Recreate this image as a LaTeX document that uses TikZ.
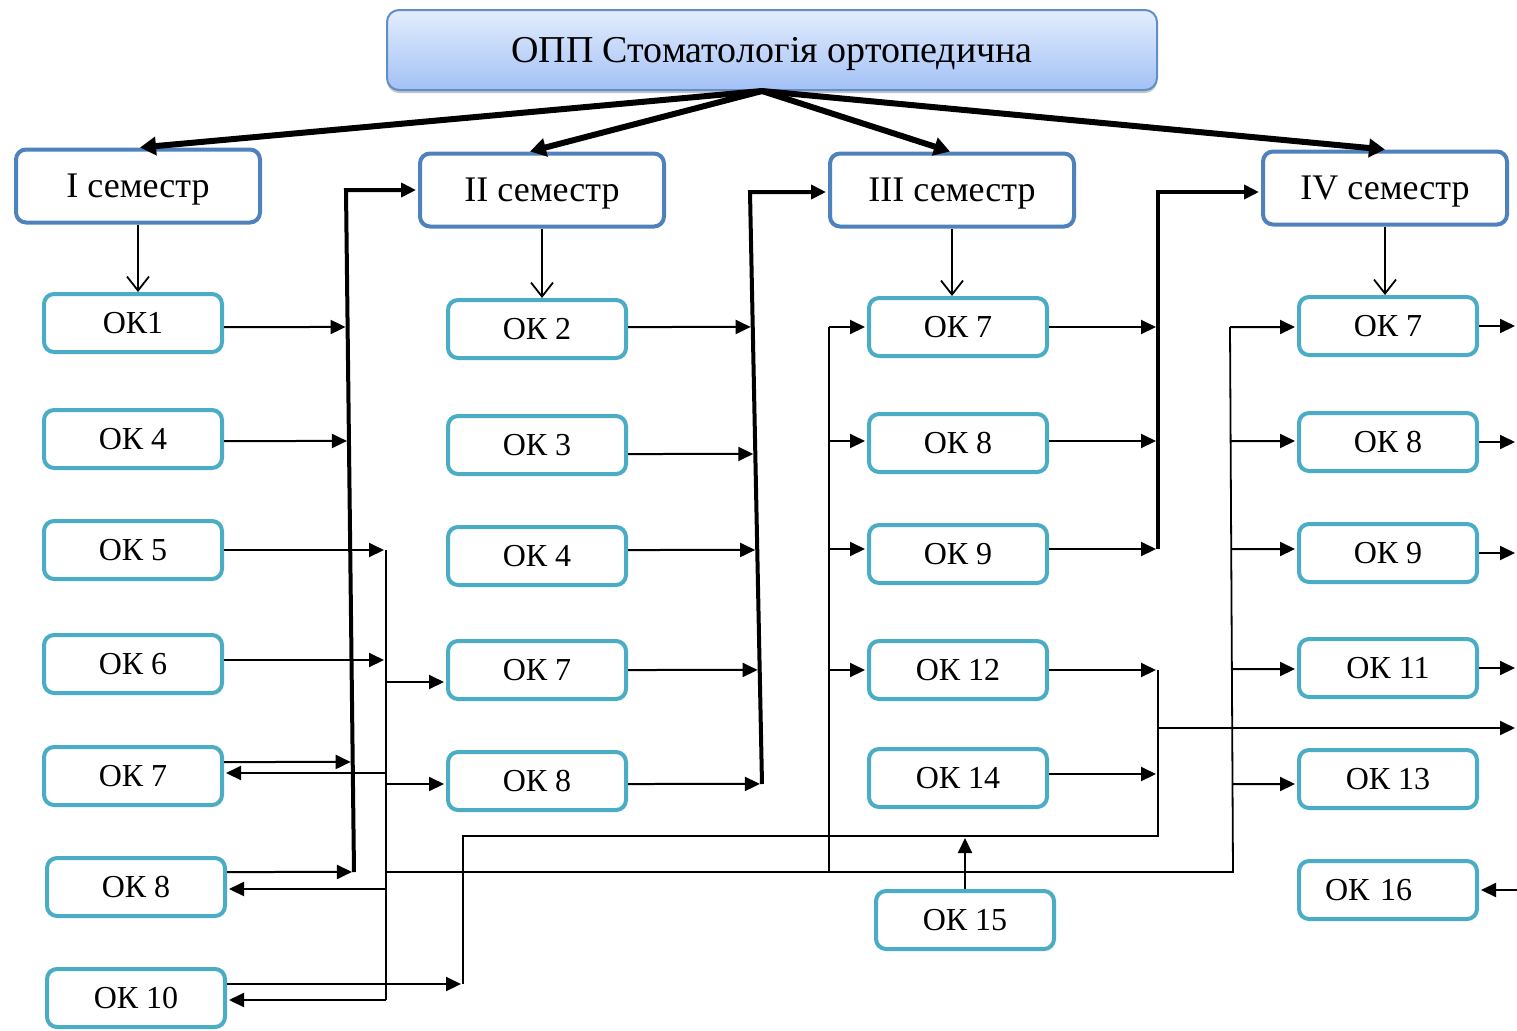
\documentclass[tikz,border=0pt]{standalone}
\usepackage{fontspec}
\setmainfont{Liberation Serif}
\usetikzlibrary{calc,arrows.meta,shadows}
\definecolor{semblue}{HTML}{4F81BD}
\definecolor{okaqua}{HTML}{4BACC6}
\definecolor{titletop}{HTML}{E3EDFD}
\definecolor{titlebot}{HTML}{A3C1F6}

\begin{document}
\begin{tikzpicture}[x=0.5pt,y=-0.5pt,line width=0.9pt,
	title/.style={draw=semblue!90,line width=1pt,rounded corners=6pt,top color=titletop,bottom color=titlebot,
		minimum width=385pt,minimum height=40pt,text depth=0pt,font=\fontsize{19}{20}\selectfont,
		drop shadow={shadow xshift=0pt,shadow yshift=-1.5pt,fill=black!45}},
	sem/.style={draw=semblue,line width=2pt,rounded corners=5pt,fill=white,minimum width=122pt,minimum height=36.5pt,text depth=0pt,font=\fontsize{18}{20}\selectfont},
	ok/.style={draw=okaqua,line width=2pt,rounded corners=5pt,fill=white,minimum width=89pt,minimum height=29pt,font=\fontsize{16}{18}\selectfont},
	arr/.style={-{Triangle[length=7.5pt,width=7pt]},line width=1pt,shorten >=1pt},
	bus/.style={line width=2pt},
	fat/.style={-{Triangle[length=8pt,width=9pt]},line width=3pt},
	down/.style={-{Straight Barb[length=7pt,width=11pt]},line width=0.9pt}]
	\useasboundingbox (0,0) rectangle (1517,1030);
	\node[title] (title) at (772,50) {ОПП Стоматологія ортопедична}; %ОПП
	\coordinate (apex) at ($(title.south)+(-10,0)$);
	\node[sem] (s1) at (138,186) {I семестр};
	\node[sem] (s2) at (542,190) {II семестр};
	\node[sem] (s3) at (952,190) {III семестр};
	\node[sem] (s4) at (1385,188) {IV семестр};
	\foreach \k/\dx in {s1/2,s2/-12,s3/-2,s4/0}{ %семестри
		\draw[fat] (apex) -- ($(\k.north)+(\dx,0)$);
	}
	% I семестр
	\foreach \nm/\txt/\x/\y in {a1/ОК1/133/323,a4/ОК 4/133/439,a5/ОК 5/133/550,a6/ОК 6/133/664,a7/ОК 7/133/776,a8/ОК 8/136/887,a10/ОК 10/136/998}{
		\node[ok] (\nm) at (\x,\y) {\txt};
	}
	% II семестр
	\foreach \nm/\txt/\y in {b2/ОК 2/329,b3/ОК 3/445,b4/ОК 4/556,b7/ОК 7/670,b8/ОК 8/781}{
		\node[ok] (\nm) at (537,\y) {\txt};
	}
	% III семестр
	\foreach \nm/\txt/\y in {c7/ОК 7/327,c8/ОК 8/443,c9/ОК 9/554,c12/ОК 12/670,c14/ОК 14/778}{
		\node[ok] (\nm) at (958,\y) {\txt};
	}
	\node[ok] (c15) at (965,920) {ОК 15};
	% IV семестр
	\foreach \nm/\txt/\y in {d7/ОК 7/326,d8/ОК 8/442,d9/ОК 9/553,d11/ОК 11/668,d13/ОК 13/779}{
		\node[ok] (\nm) at (1388,\y) {\txt};
	}
	\node[ok,text width=63pt,inner xsep=13pt,align=left] (d16) at (1388,890) {ОК 16};
	\draw[down] (s1.south) -- (s1.south |- a1.north);
	\draw[down] (s2.south) -- (s2.south |- b2.north);
	\draw[down] (s3.south) -- (s3.south |- c7.north);
	\draw[down] (s4.south) -- (s4.south |- d7.north);
	% шини
	\coordinate (p1t) at (346,190); \coordinate (p1b) at (354,872);
	\coordinate (p2t) at (750,192); \coordinate (p2b) at (762,784);
	\coordinate (p3t) at (1158,192); \coordinate (p3b) at (1158,549);
	\coordinate (q1) at (386,550); \coordinate (q2) at (386,1000);
	\coordinate (h1) at (386,872);
	\coordinate (u1) at (829,327); \coordinate (u2) at (829,872);
	\coordinate (v1) at (1230,327); \coordinate (v2) at (1233,872);
	\coordinate (r1) at (463,984); \coordinate (r2) at (463,836);
	\coordinate (r3) at (1158,836); \coordinate (r4) at (1158,670);
	\coordinate (m1) at (1158,728); \coordinate (e1) at (1517,728);
	\draw[arr,bus] (p1b) -- (p1t) -- (s2.west); %-> II
	\draw[arr,bus] (p2b) -- (p2t) -- (p2t -| s3.west); %-> III
	\draw[arr,bus] (p3b) -- (p3t) -- (p3t -| s4.west); %-> IV
	\draw (q1) -- (q2);
	\draw (h1) -- (v2) -- (v1);
	\draw (u2) -- (u1);
	\draw (r1) -- (r2) -- (r3) -- (r4);
	\draw[arr] (m1) -- (e1);
	% I -> шини
	\foreach \k/\dy in {a1/4,a4/2,a7/-14,a8/-15}{
		\coordinate (o) at ($(\k.east)+(0,\dy)$);
		\coordinate (oo) at ($(o)+(300,0)$);
		\draw[arr] (o) -- (intersection of o--oo and p1t--p1b);
	}
	\draw[arr] (a5.east) -- (a5.east -| q1);
	\draw[arr] ($(a6.east)+(0,-4)$) -- ($(a6.east -| q1)+(0,-4)$);
	\draw[arr] ($(a10.east)+(0,-14)$) -- (r1);
	\foreach \k/\dy in {a7/-3,a8/2,a10/2}{ %назад
		\draw[arr] ($(\k.east -| q1)+(0,\dy)$) -- ($(\k.east)+(0,\dy)$);
	}
	\foreach \k/\dy in {b7/12,b8/3}{
		\draw[arr] ($(\k.west -| q1)+(0,\dy)$) -- ($(\k.west)+(0,\dy)$);
	}
	% II -> шина
	\foreach \k/\dy in {b2/-2,b3/9,b4/-6,b7/0,b8/3}{
		\coordinate (o) at ($(\k.east)+(0,\dy)$);
		\coordinate (oo) at ($(o)+(300,0)$);
		\draw[arr] (o) -- (intersection of o--oo and p2t--p2b);
	}
	% III
	\foreach \k/\dy in {c7/0,c8/-2,c9/-5,c12/0}{
		\draw[arr] ($(\k.west -| u1)+(0,\dy)$) -- ($(\k.west)+(0,\dy)$);
	}
	\foreach \k/\dy in {c7/0,c8/-2,c9/-5}{
		\draw[arr] ($(\k.east)+(0,\dy)$) -- ($(\k.east -| p3t)+(0,\dy)$);
	}
	\draw[arr] (c12.east) -- (c12.east -| r4);
	\draw[arr] ($(c14.east)+(0,-4)$) -- ($(c14.east -| r4)+(0,-4)$);
	\draw[arr] (c15.north) -- (c15.north |- r2); %ОК 15
	% IV
	\foreach \k/\dy in {d7/1,d8/-1,d9/-4,d11/1,d13/5}{
		\coordinate (o) at ($(\k.west)+(0,\dy)$);
		\coordinate (oo) at ($(o)+(-300,0)$);
		\draw[arr] (intersection of o--oo and v1--v2) -- (o);
	}
	\foreach \k in {d7,d8,d9,d11}{
		\draw[arr] (\k.east) -- (\k.east -| e1);
	}
	\draw[arr] (d16.east -| e1) -- (d16.east);
\end{tikzpicture}
\end{document}
